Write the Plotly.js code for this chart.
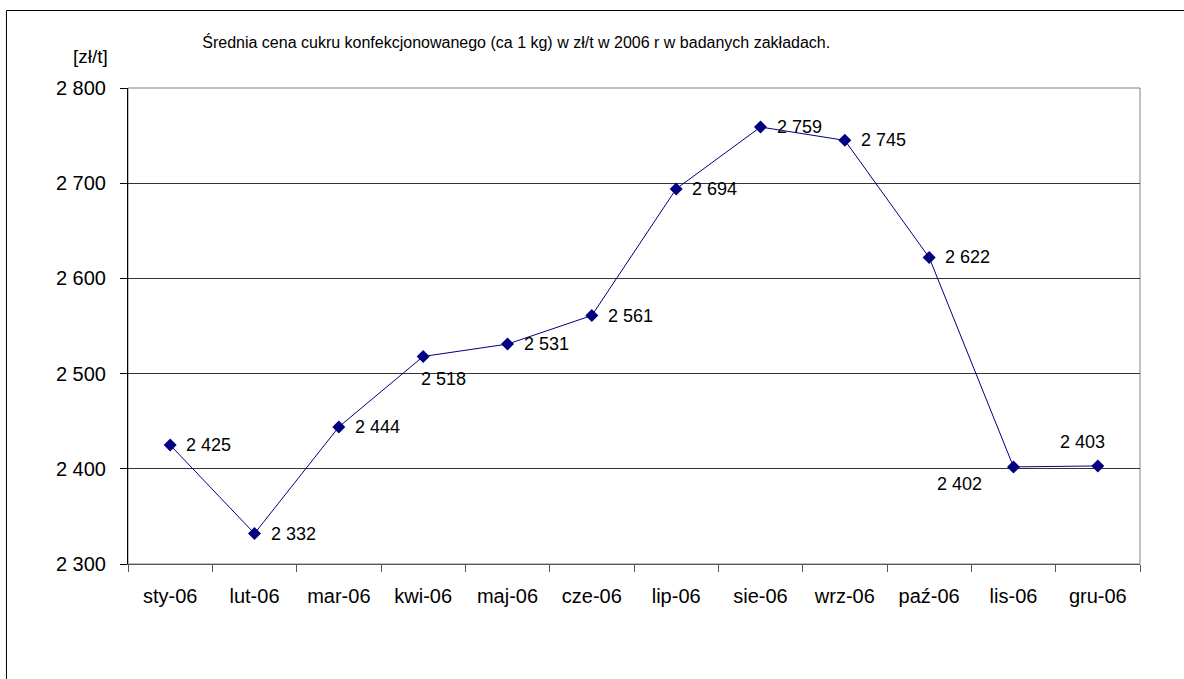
<!DOCTYPE html>
<html><head><meta charset="utf-8">
<script src="https://cdn.plot.ly/plotly-3.0.1.min.js"></script>
<style>html,body{margin:0;padding:0;background:#fff}#c{width:1184px;height:679px}</style>
</head><body><div id="c"></div>
<script>
const months = ["sty-06","lut-06","mar-06","kwi-06","maj-06","cze-06","lip-06","sie-06","wrz-06","paź-06","lis-06","gru-06"];
const prices = [2425, 2332, 2444, 2518, 2531, 2561, 2694, 2759, 2745, 2622, 2402, 2403];
const yTicks = [2300, 2400, 2500, 2600, 2700, 2800];

const font = "Liberation Sans, Arial, sans-serif";
const fmt = v => String(v).replace(/\B(?=(\d{3})+(?!\d))/g, " ");

// label placement per point (default: to the right of the marker)
const special = {3: {xanchor: "left", xshift: -4, yshift: -23},
                 10: {xanchor: "right", xshift: -30, yshift: -17},
                 11: {xanchor: "center", xshift: -15, yshift: 24}};
const labels = prices.map((v, i) => Object.assign({
  x: months[i], y: v, xref: "x", yref: "y", text: fmt(v), showarrow: false,
  xanchor: "left", yanchor: "middle", xshift: 14, yshift: 0,
  font: {family: font, size: 18, color: "#000"}
}, special[i] || {}));

const trace = {
  x: months, y: prices, type: "scatter", mode: "lines+markers",
  line: {color: "#000080", width: 1},
  marker: {symbol: "diamond", size: 10, color: "#000080"},
  cliponaxis: false, hoverinfo: "skip"
};
const layout = {
  width: 1184, height: 679, separators: ", ",
  margin: {l: 128, r: 44, t: 88, b: 115},
  paper_bgcolor: "#fff", plot_bgcolor: "#fff", showlegend: false,
  font: {family: font, size: 18, color: "#000"},
  title: {text: "Średnia cena cukru konfekcjonowanego (ca 1 kg) w zł/t w 2006 r w badanych zakładach.",
          x: 0.436, xanchor: "center", y: 0.938, yanchor: "middle", font: {family: font, size: 16, color: "#000"}},
  xaxis: {type: "category", showgrid: false, showline: true, linecolor: "#555", linewidth: 1,
          ticks: "outside", tickson: "boundaries", ticklen: 7, tickcolor: "#555", ticklabelstandoff: 14,
          tickfont: {family: font, size: 20}, zeroline: false, range: [-0.5, 11.5]},
  yaxis: {range: [2300, 2800], tickvals: yTicks, tickformat: ",.0f", showgrid: true, gridcolor: "#333", gridwidth: 1,
          showline: true, linecolor: "#000", linewidth: 1, ticks: "outside", ticklen: 7, tickcolor: "#000",
          ticklabelstandoff: 10, tickfont: {family: font, size: 20}, zeroline: false},
  shapes: [
    {type: "rect", xref: "paper", yref: "paper", x0: 0, x1: 1, y0: 0, y1: 1, line: {color: "#808080", width: 1}, layer: "below"},
    {type: "rect", xref: "paper", yref: "paper", x0: -0.1201, x1: 1.08, y0: -0.3, y1: 1.1628, line: {color: "#000", width: 1}}
  ],
  annotations: [{text: "[zł/t]", xref: "paper", yref: "paper", x: -0.037, y: 1.067, xanchor: "center", yanchor: "middle",
                 showarrow: false, font: {family: font, size: 19, color: "#000"}}].concat(labels)
};
Plotly.newPlot("c", [trace], layout, {staticPlot: true});
</script></body></html>
